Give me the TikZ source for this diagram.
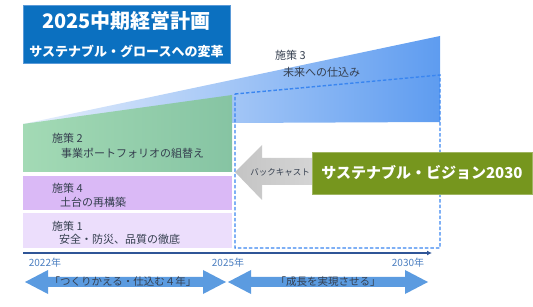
\documentclass[tikz,border=0pt]{standalone}
\usepackage{fontspec}
\setmainfont{Noto Sans CJK JP}
\usetikzlibrary{arrows.meta}
\definecolor{titleblue}{HTML}{0B70C0}
\definecolor{titleedge}{HTML}{5A9AD8}
\definecolor{wedgeL}{HTML}{E8F0FC}
\definecolor{wedgeR}{HTML}{5E9CF0}
\definecolor{greenL}{HTML}{A3DAB5}
\definecolor{greenR}{HTML}{86C4A3}
\definecolor{purpleA}{HTML}{DAB9F6}
\definecolor{purpleB}{HTML}{ECDEFC}
\definecolor{dashblue}{HTML}{3A86F0}
\definecolor{arrowgray}{HTML}{D6D6D6}
\definecolor{arrowgrayL}{HTML}{C4C4C4}
\definecolor{olive}{HTML}{76961E}
\definecolor{axisblue}{HTML}{2F5597}
\definecolor{yearblue}{HTML}{4A7EC0}
\definecolor{arrowblue}{HTML}{5B9BE0}
\definecolor{arrowpale}{HTML}{E4EEFA}
\definecolor{txt}{HTML}{353F4F}
\begin{document}
\begin{tikzpicture}[x=1pt,y=-1pt,
  boxtext/.style={anchor=west,inner sep=0pt,text=txt,font=\fontsize{11}{13}\selectfont},
  yearlbl/.style={inner sep=0pt,text=yearblue,font=\fontsize{10}{12}\selectfont},
  spanlbl/.style={inner sep=0pt,text=txt,font=\fontsize{10.5}{12}\selectfont}]
\useasboundingbox (0,0) rectangle (533,307);
% blue wedge (施策3)
\path[left color=wedgeL,right color=wedgeR] (23,124) -- (440,36) -- (440,122) -- (23,124) -- cycle;
% green box (施策2)
\path[left color=greenL,right color=greenR] (23,124) -- (232,95) -- (232,172) -- (23,172) -- cycle;
% purple boxes
\fill[purpleA] (23,176) rectangle (232,210);
\fill[purpleB] (23,213) rectangle (232,248);
% dashed frame
\draw[dashblue,line width=1.4pt,dash pattern=on 3.5pt off 2pt] (235,94) -- (440,75) -- (440,248) -- (235,248) -- cycle;
% backcast arrow
\path[left color=arrowgrayL,right color=arrowgray] (235,172) -- (262,145) -- (262,158) -- (320,158) -- (320,185) -- (262,185) -- (262,200) -- cycle;
\node[inner sep=0pt,text=txt,font=\fontsize{8.5}{10}\selectfont] (back) at (280,172) {バックキャスト};
% vision box
\node[fill=olive,draw=olive!70!white,line width=0.5pt,minimum width=220pt,minimum height=42pt,inner sep=0pt,text=white,font=\bfseries\fontsize{15}{18}\selectfont] (vision) at (422,173) {サステナブル・ビジョン2030};
% title
\node[fill=titleblue,draw=titleedge,line width=0.8pt,minimum width=207pt,minimum height=58pt,inner sep=0pt] (title) at (126.5,34) {};
\node[inner sep=0pt,text=white,font=\bfseries\fontsize{20}{22}\selectfont] (title1) at (126.5,20.5) {2025中期経営計画};
\node[inner sep=0pt,text=white,font=\bfseries\fontsize{13}{15}\selectfont] (title2) at (126.5,51.5) {サステナブル・グロースへの変革};
% measure texts
\node[boxtext] (m3a) at (275,55) {施策 3};
\node[boxtext] (m3b) at (283,72) {未来への仕込み};
\node[boxtext] (m2a) at (52,138) {施策 2};
\node[boxtext] (m2b) at (61,153.5) {事業ポートフォリオの組替え};
\node[boxtext] (m4a) at (52,188) {施策 4};
\node[boxtext] (m4b) at (60,202) {土台の再構築};
\node[boxtext] (m1a) at (52,226) {施策 1};
\node[boxtext] (m1b) at (59,239) {安全・防災、品質の徹底};
% time axis
\coordinate (ax0) at (23,253);
\coordinate (ax1) at (432,253);
\draw[axisblue,line width=1.2pt,-{Latex[length=5pt,width=5pt]}] (ax0) -- (ax1);
\node[yearlbl] (y22) at (45,263) {2022年};
\node[yearlbl] (y25) at (228,263) {2025年};
\node[yearlbl] (y30) at (408,263) {2030年};
% span arrows
\path[left color=arrowblue,middle color=arrowpale,right color=arrowblue]
  (25,282) -- (48,270) -- (48,277) -- (203,277) -- (203,270) -- (226,282) -- (203,294) -- (203,287) -- (48,287) -- (48,294) -- cycle;
\path[left color=arrowblue,middle color=arrowpale,right color=arrowblue]
  (228,282) -- (251,270) -- (251,277) -- (405,277) -- (405,270) -- (428,282) -- (405,294) -- (405,287) -- (251,287) -- (251,294) -- cycle;
\node[spanlbl] (span1) at (123,282) {「つくりかえる・仕込む４年」};
\node[spanlbl] (span2) at (328,282) {「成長を実現させる」};
\end{tikzpicture}
\end{document}
